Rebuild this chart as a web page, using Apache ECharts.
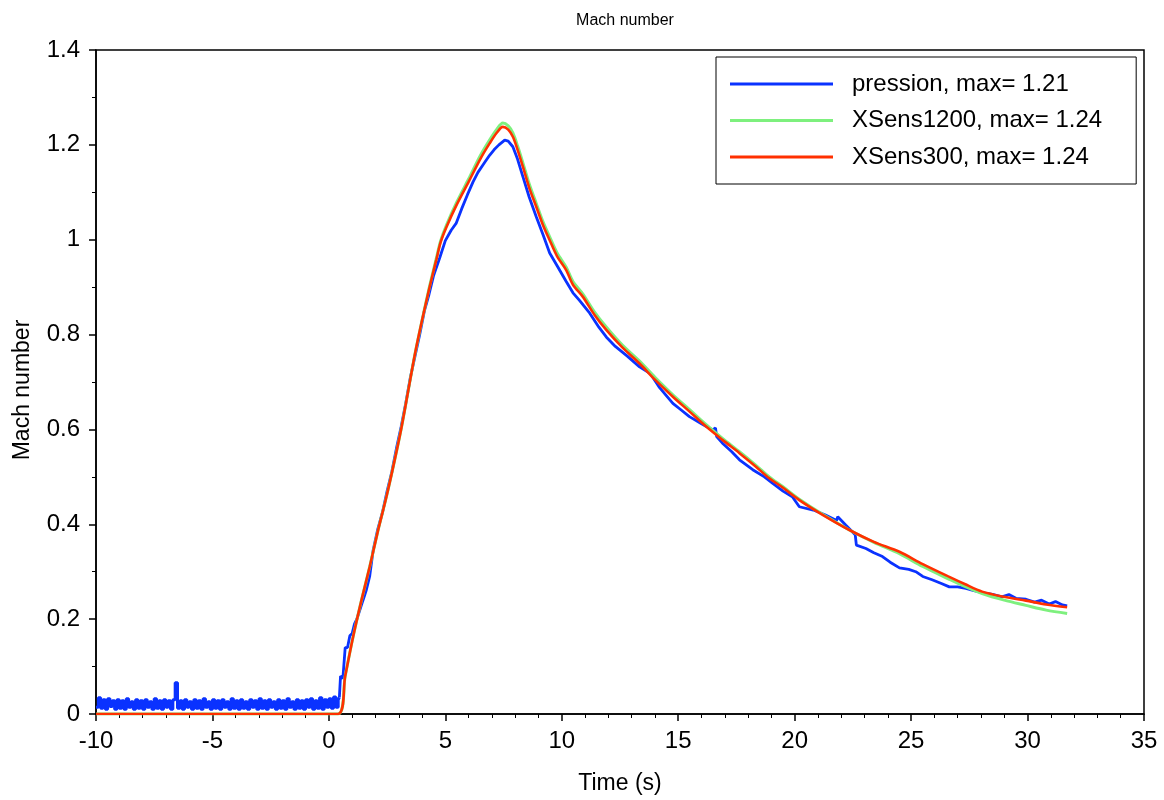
<!DOCTYPE html>
<html>
<head>
<meta charset="utf-8">
<script src="https://cdn.jsdelivr.net/npm/echarts@6/dist/echarts.min.js"></script>
<style>html,body{margin:0;padding:0;background:#fff;}#c{width:1164px;height:800px;}</style>
</head>
<body>
<div id="c"></div>
<script>
// ---- data ----
const xTicks = [-10, -5, 0, 5, 10, 15, 20, 25, 30, 35];
const yTicks = [0, 0.2, 0.4, 0.6, 0.8, 1, 1.2, 1.4];
const seriesNames = ['pression, max= 1.21', 'XSens1200, max= 1.24', 'XSens300, max= 1.24'];

// pression: noisy baseline before the launch (0.1 s samples)
const presBaseTime = [
  -10,-9.9,-9.8,-9.7,-9.6,-9.5,-9.4,-9.3,-9.2,-9.1,
  -9,-8.9,-8.8,-8.7,-8.6,-8.5,-8.4,-8.3,-8.2,-8.1,
  -8,-7.9,-7.8,-7.7,-7.6,-7.5,-7.4,-7.3,-7.2,-7.1,
  -7,-6.9,-6.8,-6.7,-6.6,-6.5,-6.4,-6.3,-6.2,-6.1,
  -6,-5.9,-5.8,-5.7,-5.6,-5.5,-5.4,-5.3,-5.2,-5.1,
  -5,-4.9,-4.8,-4.7,-4.6,-4.5,-4.4,-4.3,-4.2,-4.1,
  -4,-3.9,-3.8,-3.7,-3.6,-3.5,-3.4,-3.3,-3.2,-3.1,
  -3,-2.9,-2.8,-2.7,-2.6,-2.5,-2.4,-2.3,-2.2,-2.1,
  -2,-1.9,-1.8,-1.7,-1.6,-1.5,-1.4,-1.3,-1.2,-1.1,
  -1,-0.9,-0.8,-0.7,-0.6,-0.5,-0.4,-0.3,-0.2,-0.1,
  0,0.1,0.2,0.3,0.4,0.45
];
const presBaseValue = [
  0.014,0.034,0.012,0.030,0.010,0.032,0.016,0.028,0.010,0.030,
  0.012,0.028,0.010,0.032,0.014,0.026,0.010,0.030,0.012,0.028,
  0.010,0.030,0.014,0.026,0.010,0.032,0.012,0.028,0.010,0.030,
  0.014,0.028,0.010,0.030,0.066,0.012,0.028,0.010,0.030,0.014,
  0.026,0.010,0.030,0.012,0.028,0.010,0.032,0.014,0.026,0.010,
  0.030,0.012,0.028,0.010,0.030,0.014,0.026,0.010,0.032,0.012,
  0.028,0.010,0.030,0.012,0.026,0.010,0.030,0.014,0.028,0.010,
  0.032,0.012,0.028,0.010,0.030,0.014,0.026,0.010,0.030,0.012,
  0.028,0.010,0.032,0.014,0.026,0.010,0.030,0.012,0.028,0.010,
  0.030,0.014,0.032,0.010,0.028,0.012,0.034,0.010,0.030,0.014,
  0.032,0.012,0.036,0.014,0.030,0.035
];
// pression: flight part
const presTime = [
  0.45,0.5,0.6,0.7,0.8,0.9,1.0,1.1,1.2,1.3,1.4,1.5,1.6,1.75,1.9,2.1,2.3,2.5,2.7,2.9,
  3.1,3.3,3.5,3.7,3.9,4.1,4.3,4.5,4.76,5.0,5.25,5.47,5.7,5.95,6.19,6.4,6.65,6.9,7.1,7.3,
  7.55,7.7,7.9,8.1,8.33,8.6,8.9,9.2,9.48,9.8,10.19,10.48,10.76,11.2,11.6,11.91,12.3,12.8,13.34,13.8,
  14.2,14.77,15.1,15.48,16.0,16.48,16.6,16.65,16.9,17.3,17.63,18.2,18.7,19.06,19.5,19.9,20.2,20.8,21.3,21.8,
  21.85,22.2,22.6,22.65,23.06,23.4,23.77,24.1,24.5,24.9,25.2,25.5,25.9,26.3,26.64,27.0,27.35,27.7,28.05,28.5,
  28.9,29.2,29.5,29.93,30.3,30.6,30.93,31.2,31.5,31.7
];
const presValue = [
  0.035,0.08,0.075,0.14,0.14,0.165,0.17,0.19,0.2,0.215,0.23,0.245,0.26,0.29,0.345,0.39,0.425,0.47,0.51,0.56,
  0.605,0.655,0.71,0.755,0.8,0.85,0.885,0.925,0.962,0.998,1.02,1.035,1.065,1.095,1.122,1.142,1.16,1.178,1.19,1.2,
  1.21,1.208,1.196,1.17,1.133,1.09,1.049,1.01,0.972,0.945,0.912,0.888,0.872,0.845,0.815,0.795,0.775,0.755,0.732,0.718,
  0.688,0.655,0.642,0.627,0.612,0.599,0.603,0.585,0.571,0.553,0.536,0.515,0.5,0.486,0.47,0.458,0.437,0.43,0.42,0.408,
  0.416,0.398,0.378,0.356,0.349,0.34,0.332,0.32,0.308,0.305,0.3,0.29,0.283,0.275,0.268,0.268,0.265,0.26,0.256,0.252,
  0.247,0.252,0.244,0.242,0.236,0.24,0.232,0.237,0.23,0.228
];

// XSens1200
const xs1200Time = [
  -10,0.39,0.7,1.04,1.4,1.75,2.1,2.47,2.8,3.1,3.4,3.7,4.0,4.3,4.61,4.8,5.05,5.5,6.0,6.5,
  6.9,7.2,7.47,7.7,7.9,8.1,8.33,8.6,8.9,9.2,9.48,9.8,10.19,10.48,10.9,11.4,11.91,12.6,13.34,14.0,
  14.77,15.5,16.2,16.9,17.63,18.3,18.91,19.5,20.2,21.2,22.35,23.4,24.5,25.5,26.64,27.3,28.05,29.0,29.93,30.8,
  31.7
];
const xs1200Value = [
  0,0,0.08,0.163,0.24,0.31,0.385,0.458,0.53,0.6,0.68,0.76,0.83,0.897,0.96,0.998,1.031,1.08,1.128,1.177,
  1.21,1.232,1.246,1.24,1.225,1.198,1.162,1.118,1.077,1.037,1.006,0.972,0.942,0.912,0.886,0.848,0.816,0.778,0.744,0.71,
  0.673,0.641,0.61,0.581,0.553,0.526,0.5,0.479,0.453,0.421,0.388,0.362,0.338,0.311,0.284,0.269,0.254,0.24,0.229,0.219,
  0.212
];

// XSens300
const xs300Time = [
  -10,0.39,0.7,1.04,1.4,1.75,2.1,2.47,2.8,3.1,3.4,3.7,4.0,4.3,4.61,4.8,5.05,5.5,6.0,6.5,
  6.9,7.2,7.47,7.7,7.9,8.1,8.33,8.6,8.9,9.2,9.48,9.8,10.19,10.48,10.9,11.4,11.91,12.6,13.34,14.0,
  14.77,15.5,16.2,16.9,17.63,18.3,18.91,19.5,20.2,21.2,22.35,23.4,24.5,25.5,26.64,27.3,28.05,29.0,29.93,30.8,
  31.7
];
const xs300Value = [
  0,0,0.08,0.163,0.24,0.31,0.385,0.458,0.53,0.6,0.68,0.76,0.83,0.895,0.957,0.995,1.027,1.075,1.122,1.17,
  1.203,1.225,1.238,1.232,1.217,1.19,1.154,1.11,1.07,1.03,0.999,0.965,0.936,0.905,0.88,0.842,0.81,0.773,0.739,0.705,
  0.669,0.637,0.606,0.578,0.55,0.523,0.497,0.477,0.451,0.42,0.388,0.363,0.342,0.316,0.289,0.274,0.258,0.247,0.239,0.231,
  0.225
];

function pairs(t, v) { return t.map((x, i) => [x, v[i]]); }

const FONT = '"Liberation Sans", Arial, sans-serif';
const BLUE = '#0a32ff', GREEN = '#7ef07e', RED = '#ff3000';
const chart = echarts.init(document.getElementById('c'), null, {renderer: 'canvas'});
chart.setOption({
  animation: false,
  backgroundColor: '#fff',
  title: {
    text: 'Mach number', left: 620, top: 8, textAlign: 'center',
    textStyle: {fontFamily: FONT, fontSize: 16, fontWeight: 'normal', color: '#000'}
  },
  grid: {left: 96, right: 20, top: 50, bottom: 86, outerBoundsMode: 'none', containLabel: false,
         show: true, borderColor: '#000', borderWidth: 1.5, backgroundColor: 'transparent'},
  legend: {
    orient: 'vertical', left: 716, top: 57,
    padding: [14, 34, 14, 14], itemGap: 10.5,
    itemWidth: 103, itemHeight: 3, icon: 'rect',
    borderColor: '#000', borderWidth: 1, backgroundColor: '#fff',
    textStyle: {fontFamily: FONT, fontSize: 24, color: '#000', lineHeight: 26, padding: [0, 0, 0, 14]},
    data: seriesNames
  },
  xAxis: {
    type: 'value', min: xTicks[0], max: xTicks[xTicks.length - 1], interval: 5,
    name: 'Time (s)', nameLocation: 'middle', nameGap: 58,
    nameTextStyle: {fontFamily: FONT, fontSize: 23, color: '#000'},
    axisLine: {onZero: false, lineStyle: {color: '#000', width: 1.5}},
    axisTick: {inside: false, length: 7, lineStyle: {color: '#000', width: 1.5}},
    minorTick: {show: true, splitNumber: 5, length: 4, lineStyle: {color: '#000', width: 1}},
    splitLine: {show: false},
    axisLabel: {fontFamily: FONT, fontSize: 24, color: '#000', margin: 15}
  },
  yAxis: {
    type: 'value', min: yTicks[0], max: yTicks[yTicks.length - 1], interval: 0.2,
    name: 'Mach number', nameLocation: 'middle', nameGap: 62,
    nameTextStyle: {fontFamily: FONT, fontSize: 23, color: '#000', padding: [0, 16, 0, 0]},
    axisLine: {onZero: false, lineStyle: {color: '#000', width: 1.5}},
    axisTick: {inside: false, length: 7, lineStyle: {color: '#000', width: 1.5}},
    minorTick: {show: true, splitNumber: 2, length: 4, lineStyle: {color: '#000', width: 1}},
    splitLine: {show: false},
    axisLabel: {fontFamily: FONT, fontSize: 24, color: '#000', margin: 16}
  },
  series: [
    {name: seriesNames[0], type: 'line', data: pairs(presBaseTime, presBaseValue), showSymbol: false, symbol: 'none',
     step: 'end', color: BLUE, lineStyle: {color: BLUE, width: 3}, z: 2},
    {name: seriesNames[0], type: 'line', data: pairs(presTime, presValue), showSymbol: false, symbol: 'none',
     color: BLUE, lineStyle: {color: BLUE, width: 2.8}, z: 2},
    {name: seriesNames[1], type: 'line', data: pairs(xs1200Time, xs1200Value), showSymbol: false, symbol: 'none',
     smooth: 0.3, color: GREEN, lineStyle: {color: GREEN, width: 3}, z: 3},
    {name: seriesNames[2], type: 'line', data: pairs(xs300Time, xs300Value), showSymbol: false, symbol: 'none',
     smooth: 0.3, color: RED, lineStyle: {color: RED, width: 2.6}, z: 4}
  ]
});
</script>
</body>
</html>
